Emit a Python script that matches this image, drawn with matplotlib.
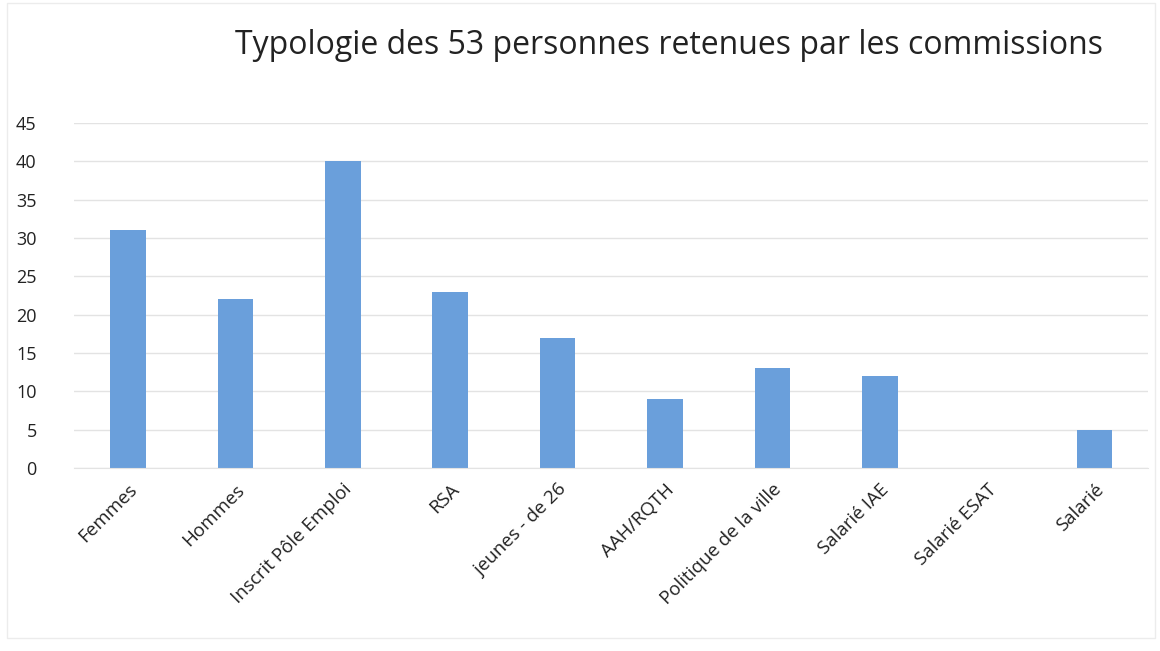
import matplotlib.pyplot as plt
from matplotlib.patches import Rectangle

# ── DATA ───────────────────────────────────────────────────────────────────────
categories = ["Femmes", "Hommes", "Inscrit Pôle Emploi", "RSA", "jeunes - de 26",
              "AAH/RQTH", "Politique de la ville", "Salarié IAE", "Salarié ESAT",
              "Salarié"]
values = [31, 22, 40, 23, 17, 9, 13, 12, 0, 5]
yticks = [0, 5, 10, 15, 20, 25, 30, 35, 40, 45]

TITLE = "Typologie des 53 personnes retenues par les commissions"
BAR   = '#6a9fdb'
GRID  = '#e3e3e3'
TEXT  = '#222222'

plt.rcParams['font.family'] = ['Open Sans', 'DejaVu Sans']

fig = plt.figure(figsize=(11.6, 6.51), dpi=100, facecolor='white')
ax = fig.add_axes([0.064, 0.281, 0.926, 0.530])

x = range(len(categories))
ax.bar(x, values, width=0.33, color=BAR, zorder=2)

ax.set_ylim(0, 45)
ax.set_xlim(-0.5, len(categories) - 0.5)
ax.set_yticks(yticks)
ax.set_yticklabels([str(t) for t in yticks], fontsize=13, color=TEXT)
ax.set_xticks(list(x))
ax.set_xticklabels(categories, rotation=45, ha='right', rotation_mode='anchor',
                   fontsize=13.5, color=TEXT)
ax.tick_params(axis='both', length=0)
ax.tick_params(axis='y', pad=27)
ax.tick_params(axis='x', pad=9)
ax.yaxis.grid(True, color=GRID, linewidth=1, zorder=0)
ax.set_axisbelow(True)
for s in ax.spines.values():
    s.set_visible(False)
ax.spines['bottom'].set_visible(True)
ax.spines['bottom'].set_color(GRID)

fig.text(0.203, 0.93, TITLE, fontsize=23, color=TEXT, ha='left', va='center')

# faint frame around the chart area
fig.patches.append(Rectangle((0.006, 0.02), 0.99, 0.975, transform=fig.transFigure,
                             fill=False, edgecolor='#ececec', linewidth=1))

fig.savefig('out.png', dpi=100, facecolor='white')
